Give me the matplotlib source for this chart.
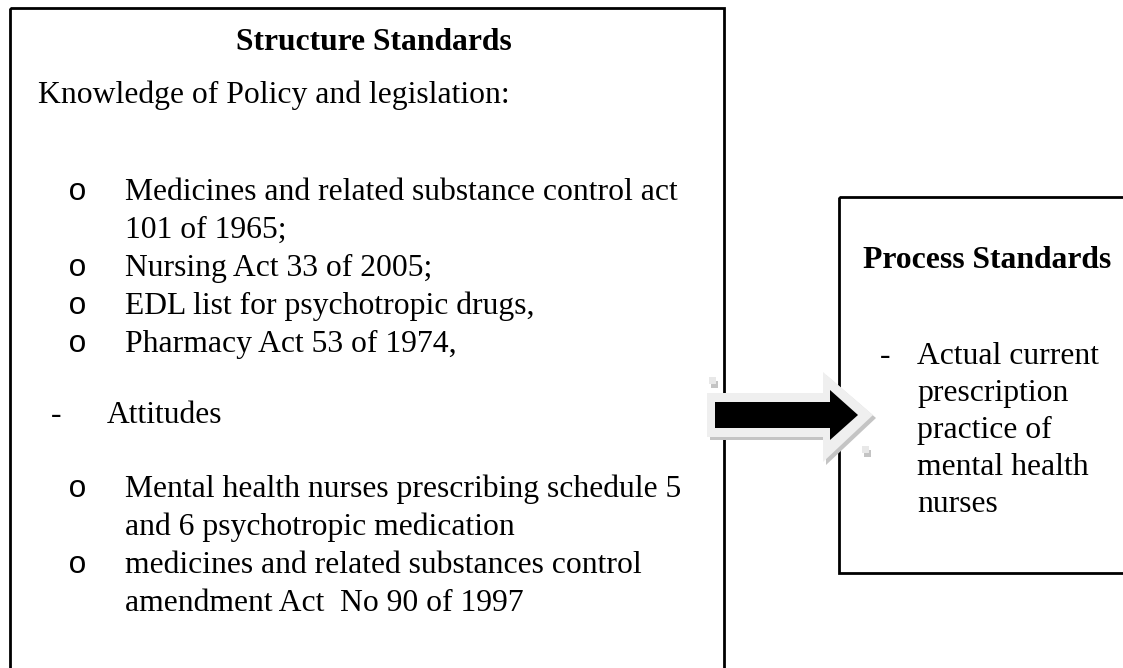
import matplotlib.pyplot as plt
from matplotlib.patches import Rectangle, Polygon

# text content of the two boxes
left_title = "Structure Standards"
left_intro = "Knowledge of Policy and legislation:"
policy_items = [
    ["Medicines and related substance control act", "101 of 1965;"],
    ["Nursing Act 33 of 2005;"],
    ["EDL list for psychotropic drugs,"],
    ["Pharmacy Act 53 of 1974,"],
]
attitude_head = "Attitudes"
attitude_items = [
    ["Mental health nurses prescribing schedule 5", "and 6 psychotropic medication"],
    ["medicines and related substances control", "amendment Act  No 90 of 1997"],
]
right_title = "Process Standards"
process_items = [["Actual current", "prescription", "practice of", "mental health", "nurses"]]

W, H = 1123, 668
FS = 22.8
SERIF = "Liberation Serif"
MONO = "Liberation Mono"
STEP = 38

fig = plt.figure(figsize=(W / 100, H / 100), dpi=100)
ax = fig.add_axes([0, 0, 1, 1])
ax.set_xlim(0, W)
ax.set_ylim(H, 0)
ax.axis("off")

# boxes (left one runs off the bottom, right one off the right edge)
ax.add_patch(Rectangle((10, 8), 714, 720, fill=False, lw=2, ec="black"))
ax.add_patch(Rectangle((839, 197), 320, 376, fill=False, lw=2, ec="black"))


def txt(x, y, s, **kw):
    kw.setdefault("family", SERIF)
    ax.text(x, y, s, fontsize=FS, va="baseline", color="black", **kw)


def bullet_list(items, y, bx, tx, mark="o", family=MONO):
    for item in items:
        txt(bx, y, mark, family=family)
        for line in item:
            txt(tx, y, line)
            y += STEP
    return y


# left box
txt(374, 50, left_title, ha="center", weight="bold")
txt(38, 103, left_intro)
bullet_list(policy_items, 200, 68, 125)
txt(51, 423, "-")
txt(107, 423, attitude_head)
bullet_list(attitude_items, 497, 68, 125)

# right box
txt(863, 268, right_title, weight="bold")
y = 364
for item in process_items:
    txt(880, y, "-")
    for line in item:
        txt(917, y, line)
        y += 37

# block arrow with light rim and shadow
outer = [(707, 393), (823, 393), (823, 372), (873, 415), (823, 462),
         (823, 437), (707, 437)]
shadow = [(x + 3, y + 3) for x, y in outer]
inner = [(715, 402), (830, 402), (830, 390), (858, 415), (830, 440),
         (830, 428), (715, 428)]
ax.add_patch(Polygon(shadow, closed=True, fc="#c4c4c4", ec="none", zorder=3))
ax.add_patch(Polygon(outer, closed=True, fc="#efefef", ec="none", zorder=4))
ax.add_patch(Polygon(inner, closed=True, fc="black", ec="none", zorder=5))

# small selection handles
for hx, hy in [(709, 377), (862, 446)]:
    ax.add_patch(Rectangle((hx + 2, hy + 4), 7, 7, fc="#c4c4c4", ec="none", zorder=3))
    ax.add_patch(Rectangle((hx, hy), 7, 7, fc="#e8e8e8", ec="none", zorder=4))

fig.savefig("out.png", dpi=100, facecolor="white")
